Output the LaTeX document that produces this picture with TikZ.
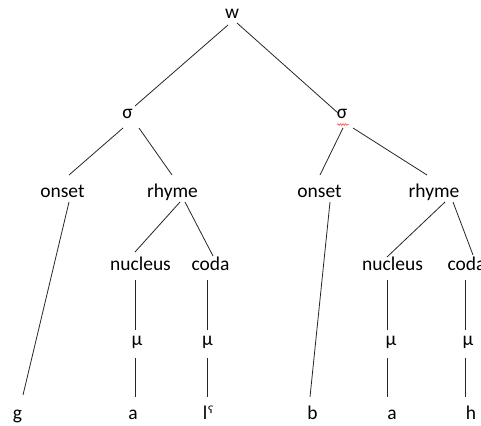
\documentclass[tikz,border=0pt]{standalone}
\usepackage{fontspec}
\setmainfont{Carlito}
\newfontfamily\modfont{DejaVu Sans}
\usetikzlibrary{calc,decorations.pathmorphing}

\tikzset{
  lbl/.style={anchor=base, inner sep=0pt, font=\fontsize{19.5bp}{22bp}\selectfont, text=black},
  branch/.style={draw=black!85, line width=0.8bp},
  spellmark/.style={draw=red!75, line width=0.6bp, decorate,
    decoration={snake, amplitude=0.8bp, segment length=2.6bp}}
}
% \link{from}{offset}{to}{offset}: branch between two labels, offsets from their baselines
\newcommand\link[4]{\draw[branch] ($(#1.base)+(#2)$) -- ($(#3.base)+(#4)$);}

\begin{document}
\begin{tikzpicture}[x=1bp, y=-1bp]
\useasboundingbox (0,0) rectangle (481,425);

% word and syllables
\node[lbl] (w)  at (232,18.5)  {w};
\node[lbl] (sL) at (127.5,118.5) {σ};
\node[lbl] (sR) at (342,118.5) {σ};

% onsets and rhymes
\node[lbl] (oL) at (62.5,197) {onset};
\node[lbl] (rL) at (172.5,197) {rhyme};
\node[lbl] (oR) at (319.5,197) {onset};
\node[lbl] (rR) at (434,197) {rhyme};

% nuclei and codas
\node[lbl] (nL) at (140.5,270) {nucleus};
\node[lbl] (cL) at (210.5,270) {coda};
\node[lbl] (nR) at (392.5,270) {nucleus};
\node[lbl] (cR) at (466.5,270) {coda};

% moras
\node[lbl] (m1) at (137,345) {μ};
\node[lbl] (m2) at (207.5,345) {μ};
\node[lbl] (m3) at (391,345) {μ};
\node[lbl] (m4) at (468,345) {μ};

% segments
\node[lbl] (g)  at (17.5,419) {g};
\node[lbl] (a1) at (133,419) {a};
\node[lbl] (l)  at (208.5,419) {l{\modfont\fontsize{18bp}{20bp}\selectfont ˤ}};
\node[lbl] (b)  at (312.5,419) {b};
\node[lbl] (a2) at (392,419) {a};
\node[lbl] (h)  at (471,419) {h};

% branches
\link{w}{-4,6.5}{sL}{7.5,-12.5}
\link{w}{5,4.5}{sR}{-4,-5.5}

\link{sL}{-4.5,9.5}{oL}{6.5,-22}
\link{sL}{11.5,9.5}{rL}{-0.5,-22}
\link{sR}{1,9.5}{oR}{0.5,-22}
\link{sR}{11,9.5}{rR}{-7,-22}

\link{oL}{6.5,5}{g}{5.5,-24}
\link{rL}{7.5,5}{nL}{-5.5,-18}
\link{rL}{12.5,5}{cL}{2.5,-14}
\link{oR}{10.5,5}{b}{-2.5,-22}
\link{rR}{11,5}{nR}{-5.5,-13}
\link{rR}{19,5}{cR}{6.5,-15}

\link{nL}{-5.5,10}{m1}{-2,-15}
\link{m1}{-2,13}{a1}{2,-22}
\link{cL}{-3.5,10}{m2}{-0.5,-15}
\link{m2}{-0.5,13}{l}{-1.5,-22}
\link{nR}{-5.5,10}{m3}{-4,-15}
\link{m3}{-4,13}{a2}{-5,-22}
\link{cR}{-1.5,10}{m4}{-3,-15}
\link{m4}{-3,13}{h}{-6,-22}

% red spell-check squiggle under the second syllable
\draw[spellmark] ($(sR.base)+(-5,6)$) -- ($(sR.base)+(6.5,6)$);
\end{tikzpicture}
\end{document}
